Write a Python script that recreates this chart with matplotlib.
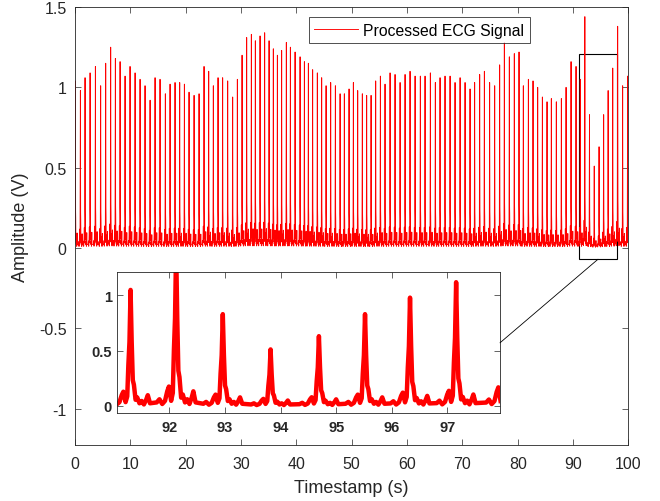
import numpy as np
import matplotlib.pyplot as plt
from matplotlib.patches import Rectangle, ConnectionPatch

plt.rcParams['font.family'] = ['Liberation Sans', 'DejaVu Sans']

# R-peak times (s) and amplitudes (V)
peak_times = [0.07, 0.98, 1.82, 2.73, 3.69, 4.64, 5.55, 6.45, 7.30, 8.15,
              9.05, 9.95, 10.86, 11.76, 12.66, 13.57, 14.47, 15.37, 16.33, 17.18,
              18.08, 18.92, 19.77, 20.61, 21.52, 22.42, 23.32, 24.16, 25.00, 25.85,
              26.68, 27.59, 28.49, 29.34, 30.19, 31.02, 31.87, 32.59, 33.44, 34.27,
              35.07, 35.84, 36.57, 37.34, 38.19, 38.92, 39.77, 40.67, 41.45, 42.17,
              42.94, 43.79, 44.57, 45.37, 46.20, 47.05, 47.90, 48.67, 49.52, 50.30,
              51.08, 51.92, 52.70, 53.50, 54.33, 55.18, 56.02, 56.93, 57.83, 58.74,
              59.64, 60.54, 61.45, 62.40, 63.25, 64.21, 65.11, 65.96, 66.86, 67.77,
              68.67, 69.58, 70.48, 71.38, 72.21, 73.12, 73.97, 74.92, 75.83, 76.73,
              77.58, 78.48, 79.38, 80.23, 81.01, 81.92, 82.76, 83.60, 84.45, 85.29,
              86.07, 86.97, 87.88, 88.73, 89.63, 90.53, 91.30, 92.12, 92.96, 93.82,
              94.69, 95.52, 96.33, 97.16, 98.05, 98.95, 99.85]
peak_amps = [1.04, 0.98, 1.06, 1.09, 1.13, 1.01, 1.15, 1.25, 1.18, 1.16,
             1.07, 1.13, 1.09, 1.05, 1.01, 0.92, 1.06, 1.05, 0.96, 1.02,
             1.03, 1.03, 1.02, 0.97, 0.95, 0.96, 1.13, 1.10, 1.01, 1.06,
             1.06, 1.04, 0.94, 1.05, 1.20, 1.31, 1.33, 1.29, 1.32, 1.34,
             1.29, 1.24, 1.20, 1.23, 1.28, 1.25, 1.22, 1.19, 1.16, 1.15,
             1.11, 1.09, 1.06, 1.01, 1.03, 1.01, 0.96, 0.96, 0.99, 1.03,
             0.98, 0.96, 0.95, 0.95, 1.04, 1.07, 1.02, 1.09, 1.08, 1.03,
             1.08, 1.10, 1.07, 1.07, 1.07, 1.09, 1.03, 1.06, 1.07, 1.07,
             1.03, 1.06, 1.03, 0.99, 1.03, 1.08, 1.10, 1.03, 1.01, 1.14,
             1.28, 1.19, 1.21, 1.22, 1.01, 1.05, 1.04, 1.00, 0.94, 0.91,
             0.93, 0.91, 0.93, 1.00, 1.16, 1.13, 1.05, 1.44, 0.83, 0.51,
             0.63, 0.83, 0.98, 1.12, 1.38, 1.01, 1.07]

# shape of one beat around its R peak (offset in s, fraction of R amplitude)
beat_offsets = [-0.35, -0.30, -0.25, -0.20, -0.16, -0.13, -0.09, -0.06, -0.04, -0.02,
                0.0, 0.02, 0.04, 0.06, 0.09, 0.12, 0.16, 0.20, 0.24, 0.28, 0.31, 0.35]
beat_shape = [0.02, 0.04, 0.01, 0.03, 0.09, 0.12, 0.03, 0.08, 0.35, 0.55,
              1.0, 0.55, 0.22, 0.18, 0.05, 0.07, 0.02, 0.04, 0.01, 0.05, 0.09, 0.02]

zoom_x = [91.05, 97.95]
zoom_y = [-0.07, 1.21]

t = (np.array(peak_times)[:, None] + np.array(beat_offsets)[None, :]).ravel()
v = (np.array(peak_amps)[:, None] * np.array(beat_shape)[None, :]).ravel()

dark = '#262626'
fig = plt.figure(figsize=(6.6, 5.02), dpi=100)
ax = fig.add_axes([0.1136, 0.112, 0.8386, 0.872])
ax.plot(t, v, color='red', lw=0.65, label='Processed ECG Signal')
ax.set_xlim(0, 100)
ax.set_ylim(-1.225, 1.5)
ax.set_xticks(range(0, 101, 10))
ax.set_yticks([-1, -0.5, 0, 0.5, 1, 1.5])
ax.set_yticklabels(['-1', '-0.5', '0', '0.5', '1', '1.5'])
ax.tick_params(direction='in', top=True, right=True, length=4, width=0.5,
               labelsize=11.5, colors=dark)
ax.tick_params(axis='x', pad=8)
ax.tick_params(axis='y', pad=6)
for s in ax.spines.values():
    s.set_linewidth(0.6)
    s.set_color(dark)
ax.set_xlabel('Timestamp (s)', fontsize=13, color=dark, labelpad=6)
ax.set_ylabel('Amplitude (V)', fontsize=13, color=dark, labelpad=7)
leg = ax.legend(loc='upper right', bbox_to_anchor=(0.822, 0.977), borderaxespad=0,
                fancybox=False, edgecolor='black', fontsize=11.3, handlelength=2.8,
                handletextpad=0.35, borderpad=0.35)
leg.get_frame().set_linewidth(0.6)

ax.add_patch(Rectangle((zoom_x[0], zoom_y[0]), zoom_x[1] - zoom_x[0], zoom_y[1] - zoom_y[0],
                       fill=False, ec='black', lw=0.8))

axin = fig.add_axes([0.1768, 0.1747, 0.5808, 0.2809])
axin.plot(t, v, color='red', lw=3.2)
axin.set_xlim(zoom_x)
axin.set_ylim(zoom_y)
axin.set_xticks(range(92, 98))
axin.set_yticks([0, 0.5, 1])
axin.set_yticklabels(['0', '0.5', '1'])
axin.tick_params(direction='in', top=True, right=True, length=4, width=0.5,
                 labelsize=10.5, colors=dark)
axin.tick_params(axis='x', pad=5)
for lab in axin.get_xticklabels() + axin.get_yticklabels():
    lab.set_fontweight('bold')
for s in axin.spines.values():
    s.set_linewidth(0.6)
    s.set_color(dark)

con = ConnectionPatch(xyA=(sum(zoom_x) / 2, zoom_y[0]), coordsA=ax.transData,
                      xyB=(1, 0.5), coordsB=axin.transAxes, color='black', lw=0.6)
fig.add_artist(con)

fig.savefig('out.png', dpi=100)
